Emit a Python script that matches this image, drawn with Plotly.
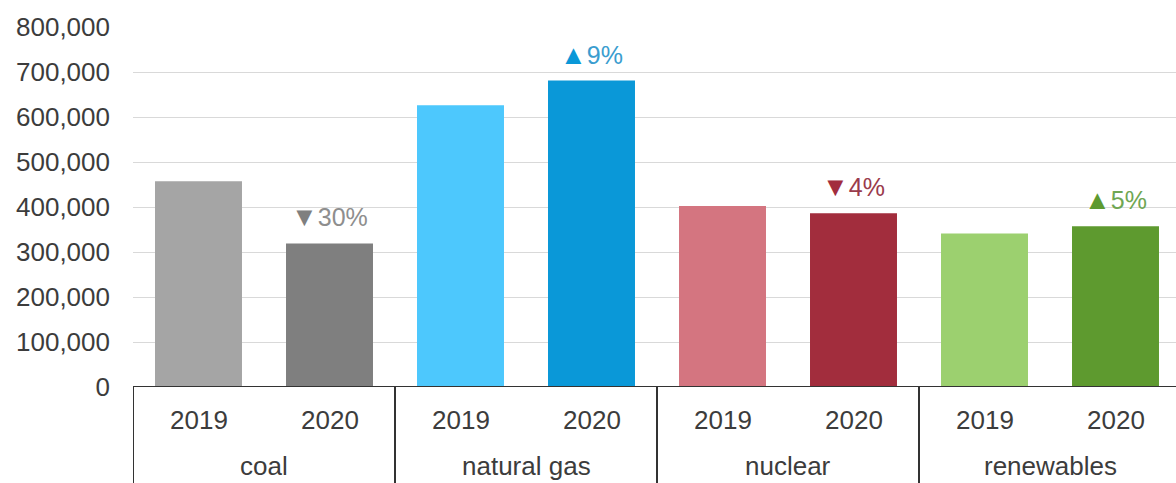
import plotly.graph_objects as go

# Electricity generation by source (2019 vs 2020)
sources = ["coal", "natural gas", "nuclear", "renewables"]
years = ["2019", "2020"]
gen_2019 = [457000, 626000, 402000, 341000]
gen_2020 = [319000, 681000, 386000, 357000]
y_ticks = [0, 100000, 200000, 300000, 400000, 500000, 600000, 700000, 800000]

# palette per source: (2019 bar, 2020 bar, change-label text)
colors_2019 = ["#A5A5A5", "#4DC8FD", "#D47580", "#9CD06F"]
colors_2020 = ["#7F7F7F", "#0A98D8", "#A22D3D", "#5E9A2F"]
label_text_colors = ["#8E8E8E", "#3A9DCF", "#9A3B4C", "#6FA653"]

FONT = "Liberation Sans, Arial, sans-serif"
TEXT = "#3C3C3C"
FS = 26
BAR_W = 0.664

x19 = [2 * i for i in range(len(sources))]
x20 = [2 * i + 1 for i in range(len(sources))]

fig = go.Figure()
fig.add_trace(go.Bar(x=x19, y=gen_2019, width=BAR_W, marker=dict(color=colors_2019, line_width=0),
                     name=years[0], hoverinfo="y"))
fig.add_trace(go.Bar(x=x20, y=gen_2020, width=BAR_W, marker=dict(color=colors_2020, line_width=0),
                     name=years[1], hoverinfo="y"))

annotations = []
# year-over-year change labels above the 2020 bars
for i, (a, b) in enumerate(zip(gen_2019, gen_2020)):
    pct = round((b / a - 1) * 100)
    arrow = "\u25B2" if pct >= 0 else "\u25BC"
    txt = (f'<span style="color:{colors_2020[i]};font-size:27px">{arrow}</span>'
           f'<span style="color:{label_text_colors[i]}">{abs(pct)}%</span>')
    annotations.append(dict(x=x20[i], y=b, xref="x", yref="y", text=txt, showarrow=False,
                            yanchor="middle", yshift=26, font=dict(family=FONT, size=25)))

# two-level category axis labels
for i, s in enumerate(sources):
    for xv, yr in ((x19[i], years[0]), (x20[i], years[1])):
        annotations.append(dict(x=xv, y=0, xref="x", yref="paper", text=yr, showarrow=False,
                                yanchor="middle", yshift=-33, font=dict(family=FONT, size=FS, color=TEXT)))
    annotations.append(dict(x=(x19[i] + x20[i]) / 2, y=0, xref="x", yref="paper", text=s,
                            showarrow=False, yanchor="middle", yshift=-79,
                            font=dict(family=FONT, size=FS, color=TEXT)))

shapes = [dict(type="line", xref="paper", yref="y", x0=0, x1=1, y0=0, y1=0,
               line=dict(color="#333333", width=2))]
for i in range(len(sources)):
    xd = 2 * i - 0.5
    shapes.append(dict(type="line", xref="x", yref="paper", x0=xd, x1=xd, y0=0, y1=-0.3,
                       line=dict(color="#333333", width=2)))

plot_w = 1176 - 133
slot = 131
fig.update_layout(
    width=1176, height=483,
    margin=dict(l=133, r=0, t=27, b=96, pad=0),
    paper_bgcolor="white", plot_bgcolor="white",
    barmode="overlay", showlegend=False,
    font=dict(family=FONT, size=FS, color=TEXT),
    xaxis=dict(range=[-0.5, -0.5 + plot_w / slot], showticklabels=False, showgrid=False,
               zeroline=False, showline=False, ticks=""),
    yaxis=dict(range=[0, 800000], tickvals=y_ticks, tickformat=",", showgrid=True,
               gridcolor="#D9D9D9", gridwidth=1.4, zeroline=False, showline=False,
               ticks="", ticklabelstandoff=22, tickfont=dict(family=FONT, size=FS, color=TEXT)),
    annotations=annotations, shapes=shapes,
)
fig.write_html("out.html")
